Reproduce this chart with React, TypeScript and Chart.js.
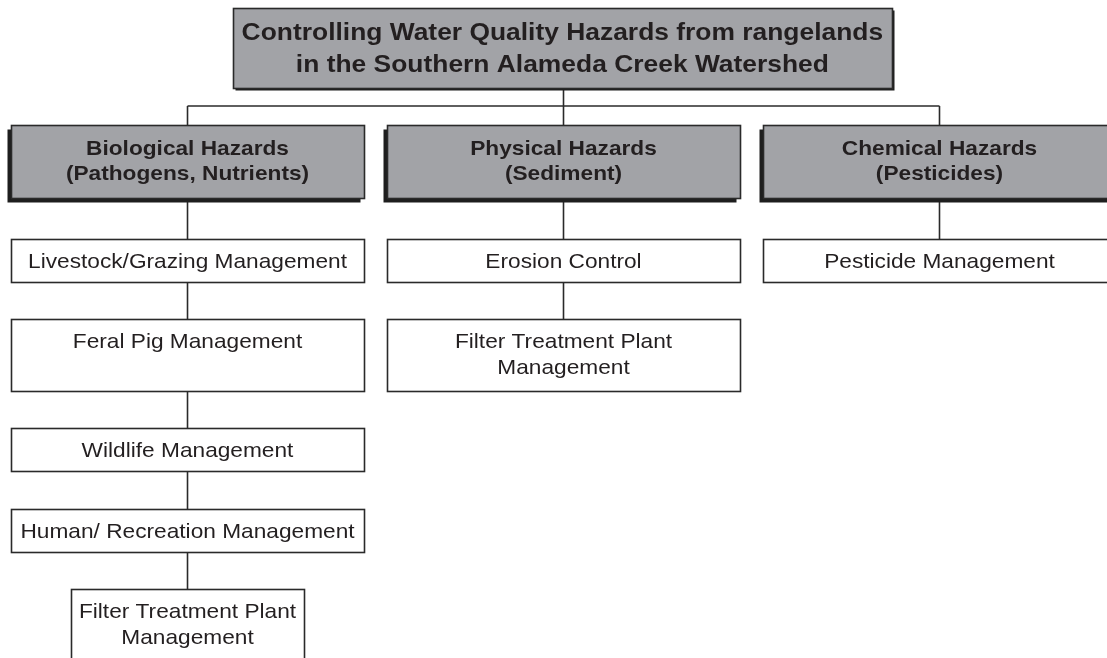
import React, { useEffect, useRef } from "react";
import { Chart, registerables } from "chart.js";

Chart.register(...registerables);

// ---- content ----
const TITLE_LINES = [
  "Controlling Water Quality Hazards from rangelands",
  "in the Southern Alameda Creek Watershed",
];
const HAZARD_NAMES = ["Biological Hazards", "Physical Hazards", "Chemical Hazards"];
const HAZARD_SUBTITLES = ["(Pathogens, Nutrients)", "(Sediment)", "(Pesticides)"];
const BIOLOGICAL_MEASURES = [
  "Livestock/Grazing Management",
  "Feral Pig Management",
  "Wildlife Management",
  "Human/ Recreation Management",
  "Filter Treatment Plant\nManagement",
];
const PHYSICAL_MEASURES = ["Erosion Control", "Filter Treatment Plant\nManagement"];
const CHEMICAL_MEASURES = ["Pesticide Management"];

// ---- layout (in scale units: x = column index, y = vertical units) ----
const COLUMNS = [0, 1, 2];
const TITLE_BOX = { x: 0.997, w: 1.753, top: 8, bottom: 88 };
const BUS_Y = 106;
const HAZARD_ROW = { top: 125, bottom: 198, w: 0.939 };
const MEASURE_TOPS = [
  [239, 319, 428, 509, 589],
  [239, 319],
  [239],
];
const MEASURE_BOTTOMS = [
  [282, 391, 471, 552, 661],
  [282, 391],
  [282],
];
const MEASURE_WIDTHS = [
  [0.939, 0.939, 0.939, 0.939, 0.622],
  [0.939, 0.939],
  [0.939],
];
const X_MIN = -0.4987;
const X_MAX = 2.4455;
const Y_MAX = 658;

const FONT = '"Liberation Sans", Arial, Helvetica, sans-serif';
const TEXT_COLOR = "#231f20";
const LINE_COLOR = "#2a2a2a";
const GRAY_FILL = "#a2a3a7";
const STRETCH = 1.08;
const TITLE_STRETCH = 1.1;

const MEASURES = [BIOLOGICAL_MEASURES, PHYSICAL_MEASURES, CHEMICAL_MEASURES];

const diagramPlugin = {
  id: "hazardDiagram",
  afterDatasetsDraw(chart: any) {
    const ctx = chart.ctx as CanvasRenderingContext2D;
    const xs = chart.scales.x;
    const ys = chart.scales.y;
    const px = (v: number) => xs.getPixelForValue(v);
    const py = (v: number) => ys.getPixelForValue(v);
    const unitW = px(1) - px(0);

    const line = (x1: number, y1: number, x2: number, y2: number) => {
      ctx.beginPath();
      ctx.moveTo(x1, y1);
      ctx.lineTo(x2, y2);
      ctx.stroke();
    };

    const text = (s: string, cx: number, by: number, font: string, sx: number) => {
      ctx.save();
      ctx.font = font;
      ctx.fillStyle = TEXT_COLOR;
      ctx.textAlign = "center";
      ctx.textBaseline = "alphabetic";
      ctx.translate(cx, by);
      ctx.scale(sx, 1);
      ctx.fillText(s, 0, 0);
      ctx.restore();
    };

    const box = (
      cx: number,
      w: number,
      top: number,
      bottom: number,
      fill: string,
      shadow: [number, number] | null
    ) => {
      const x0 = Math.round(cx - w / 2) + 0.5;
      const x1 = Math.round(cx + w / 2) + 0.5;
      const y0 = Math.round(top) + 0.5;
      const y1 = Math.round(bottom) + 0.5;
      if (shadow) {
        ctx.fillStyle = "#1e1e1e";
        ctx.fillRect(x0 + shadow[0], y0 + shadow[1], x1 - x0, y1 - y0);
      }
      ctx.fillStyle = fill;
      ctx.fillRect(x0, y0, x1 - x0, y1 - y0);
      ctx.strokeStyle = LINE_COLOR;
      ctx.lineWidth = 1.6;
      ctx.strokeRect(x0, y0, x1 - x0, y1 - y0);
    };

    ctx.save();
    ctx.strokeStyle = LINE_COLOR;
    ctx.lineWidth = 1.6;

    // connectors
    const busX = px(COLUMNS[1]);
    line(busX, py(TITLE_BOX.bottom), busX, py(BUS_Y));
    line(px(COLUMNS[0]), py(BUS_Y), px(COLUMNS[COLUMNS.length - 1]), py(BUS_Y));
    COLUMNS.forEach((c, i) => {
      const cx = px(c);
      line(cx, py(BUS_Y), cx, py(HAZARD_ROW.top));
      let prevBottom = HAZARD_ROW.bottom;
      MEASURE_TOPS[i].forEach((t, j) => {
        ctx.strokeStyle = LINE_COLOR;
        ctx.lineWidth = 1.6;
        line(cx, py(prevBottom), cx, py(t));
        prevBottom = MEASURE_BOTTOMS[i][j];
      });
    });

    // title box
    const titleCx = px(TITLE_BOX.x);
    box(titleCx, TITLE_BOX.w * unitW, py(TITLE_BOX.top), py(TITLE_BOX.bottom), GRAY_FILL, [2, 2]);
    TITLE_LINES.forEach((s, k) => {
      text(s, titleCx, py(TITLE_BOX.top) + 32 + k * 32, `bold 24px ${FONT}`, TITLE_STRETCH);
    });

    // hazard boxes
    COLUMNS.forEach((c, i) => {
      const cx = px(c);
      const top = py(HAZARD_ROW.top);
      box(cx, HAZARD_ROW.w * unitW, top, py(HAZARD_ROW.bottom), GRAY_FILL, [-4, 4]);
      text(HAZARD_NAMES[i], cx, top + 30, `bold 21px ${FONT}`, STRETCH);
      text(HAZARD_SUBTITLES[i], cx, top + 55, `bold 21px ${FONT}`, STRETCH);
    });

    // measure boxes
    COLUMNS.forEach((c, i) => {
      const cx = px(c);
      MEASURES[i].forEach((label, j) => {
        const top = py(MEASURE_TOPS[i][j]);
        box(cx, MEASURE_WIDTHS[i][j] * unitW, top, py(MEASURE_BOTTOMS[i][j]), "#ffffff", null);
        label.split("\n").forEach((s, k) => {
          text(s, cx, top + 29 + k * 26, `21px ${FONT}`, STRETCH);
        });
      });
    });
    ctx.restore();
  },
};

export default function App() {
  const ref = useRef<HTMLCanvasElement | null>(null);
  useEffect(() => {
    if (!ref.current) return;
    const points: { x: number; y: number }[] = [];
    points.push({ x: TITLE_BOX.x, y: (TITLE_BOX.top + TITLE_BOX.bottom) / 2 });
    COLUMNS.forEach((c, i) => {
      points.push({ x: c, y: (HAZARD_ROW.top + HAZARD_ROW.bottom) / 2 });
      MEASURE_TOPS[i].forEach((t, j) => points.push({ x: c, y: (t + MEASURE_BOTTOMS[i][j]) / 2 }));
    });
    const chart = new Chart(ref.current, {
      type: "scatter",
      data: {
        datasets: [
          {
            label: "nodes",
            data: points,
            pointRadius: 0,
            pointHoverRadius: 0,
            showLine: false,
          },
        ],
      },
      options: {
        animation: false,
        responsive: false,
        maintainAspectRatio: false,
        devicePixelRatio: 1,
        layout: { padding: 0 },
        events: [],
        plugins: {
          legend: { display: false },
          tooltip: { enabled: false },
          title: { display: false },
        },
        scales: {
          x: { type: "linear", display: false, min: X_MIN, max: X_MAX },
          y: { type: "linear", display: false, reverse: true, min: 0, max: Y_MAX },
        },
      },
      plugins: [diagramPlugin],
    });
    return () => chart.destroy();
  }, []);
  return (
    <div style={{ position: "absolute", left: 0, top: 0, width: 1107, height: 658, background: "#fff" }}>
      <canvas ref={ref} width={1107} height={658} style={{ display: "block" }} />
    </div>
  );
}
